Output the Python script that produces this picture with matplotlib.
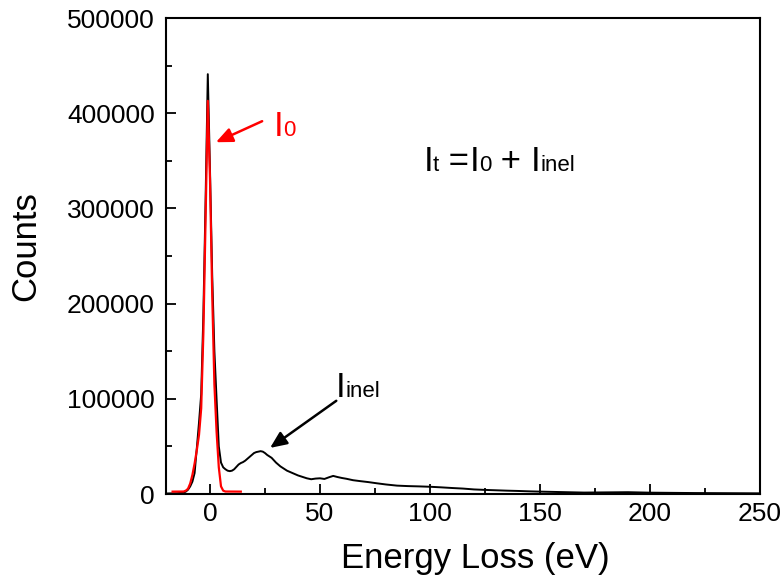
import matplotlib
matplotlib.use("Agg")
import matplotlib.pyplot as plt
from matplotlib.offsetbox import TextArea, HPacker, AnnotationBbox
from matplotlib.ticker import MultipleLocator

plt.rcParams['font.family'] = ['Liberation Sans', 'DejaVu Sans']

# Measured spectrum (total intensity I_t)
energy_total = [-20, -15, -12, -11, -10, -9, -8, -7, -6, -5, -4, -3, -2, -1, 0, 1, 2, 3, 4, 5,
                6, 7, 8, 9, 10, 11, 12, 13, 14, 15, 16, 17, 18, 19, 20, 21, 22, 23, 24, 25,
                26, 27, 28, 29, 30, 31, 32, 33, 34, 35, 36, 37, 38, 39, 40, 42, 44, 46, 48, 50,
                52, 54, 56, 58, 60, 62, 65, 68, 72, 76, 80, 85, 90, 95, 100, 105, 110, 115, 120, 125,
                130, 135, 140, 145, 150, 160, 170, 180, 190, 200, 210, 220, 230, 240, 250]
counts_total = [500, 800, 1500, 2500, 4500, 8000, 13000, 22000, 48000, 75000, 105000, 190000, 310000, 441000, 340000, 230000, 150000, 99000, 50000, 33000,
                28000, 26000, 24500, 24000, 24500, 26000, 28500, 31000, 32500, 33500, 35000, 37000, 39000, 41000, 43000, 44000, 44500, 45000, 44500, 43000,
                41000, 39500, 38000, 35500, 33000, 31000, 29000, 27500, 26000, 24500, 23500, 22500, 21500, 20500, 19500, 18000, 16500, 15500, 16200, 16500,
                15800, 17500, 19000, 17800, 16800, 16000, 14500, 13600, 12500, 11200, 10000, 8800, 8300, 8000, 7600, 7000, 6300, 5700, 4800, 4300,
                3900, 3500, 3200, 2800, 2500, 2000, 1500, 1700, 1900, 1400, 1200, 1000, 900, 800, 700]

# Fitted zero-loss peak (I_0)
energy_zlp = [-17, -12, -11, -10, -9, -8, -7, -6, -5, -4, -3, -2, -1, 0, 1, 2, 3, 4, 5, 6, 7, 14]
counts_zlp = [2500, 2600, 3500, 5500, 11000, 20000, 32000, 46000, 62000, 90000, 170000, 290000, 413000, 330000, 210000, 115000, 65000, 28000, 8000, 3500, 2600, 2500]

x_ticks = [0, 50, 100, 150, 200, 250]
y_ticks = [0, 100000, 200000, 300000, 400000, 500000]

fig = plt.figure(figsize=(7.84, 5.82), dpi=100)
ax = fig.add_axes([166/784, 88/582, 594/784, 476/582])

ax.plot(energy_total, counts_total, color='black', lw=1.4, zorder=2)
ax.plot(energy_zlp, counts_zlp, color='#ff0000', lw=1.6, zorder=3)

ax.set_xlim(-20, 250)
ax.set_ylim(0, 500000)
ax.set_xticks(x_ticks)
ax.set_yticks(y_ticks)
ax.set_xticklabels([str(v) for v in x_ticks])
ax.set_yticklabels([str(v) for v in y_ticks])
ax.xaxis.set_minor_locator(MultipleLocator(25))
ax.yaxis.set_minor_locator(MultipleLocator(50000))
ax.tick_params(which='both', direction='in', top=False, right=False, width=1.3, labelsize=19)
ax.tick_params(which='major', length=7)
ax.tick_params(which='minor', length=4)
ax.tick_params(axis='y', pad=8)
ax.tick_params(axis='x', pad=6)
for s in ax.spines.values():
    s.set_linewidth(1.5)

ax.set_xlabel('Energy Loss (eV)', fontsize=25)
ax.set_ylabel('Counts', fontsize=25)
ax.xaxis.set_label_coords(0.52, -0.1)
ax.yaxis.set_label_coords(-0.208, 0.52)


def subscript_label(parts, xy, color):
    areas = [TextArea(t, textprops=dict(size=s, color=color)) for t, s in parts]
    box = HPacker(children=areas, align='baseline', pad=0, sep=0)
    ab = AnnotationBbox(box, xy, xycoords='data', box_alignment=(0, 0),
                        frameon=False, pad=0)
    ax.add_artist(ab)


big, small = 25, 16
subscript_label([('I', big), ('t', small), (' =', big), ('I', big), ('0', small),
                 (' + ', big), ('I', big), ('inel', small)], (97.0, 332000), 'black')
subscript_label([('I', big), ('0', small)], (28.8, 369000), '#ff0000')
subscript_label([('I', big), ('inel', small)], (57.2, 95000), 'black')

arrow_style = '-|>,head_length=0.5,head_width=0.22'
ax.annotate('', xy=(2.7, 369500), xytext=(23.7, 391600),
            arrowprops=dict(arrowstyle=arrow_style, color='#ff0000', lw=1.8,
                            mutation_scale=20, shrinkA=0, shrinkB=0))
ax.annotate('', xy=(27.3, 48400), xytext=(57.4, 97900),
            arrowprops=dict(arrowstyle=arrow_style, color='black', lw=1.8,
                            mutation_scale=20, shrinkA=0, shrinkB=0))

fig.savefig('out.png', dpi=100)
